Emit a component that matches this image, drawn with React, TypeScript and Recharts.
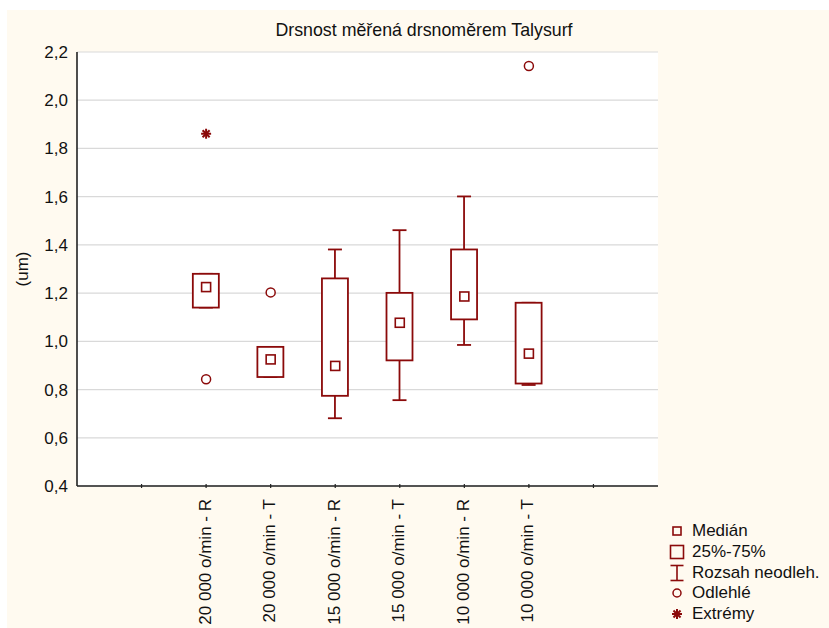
import {
  ComposedChart,
  Bar,
  Scatter,
  XAxis,
  YAxis,
  CartesianGrid,
} from "recharts";

const categories = [
  "20 000 o/min - R",
  "20 000 o/min - T",
  "15 000 o/min - R",
  "15 000 o/min - T",
  "10 000 o/min - R",
  "10 000 o/min - T",
];
const medians = [1.225, 0.925, 0.898, 1.077, 1.186, 0.949];
const q1 = [1.14, 0.852, 0.774, 0.921, 1.091, 0.825];
const q3 = [1.28, 0.977, 1.261, 1.201, 1.381, 1.16];
const whiskerMin = [1.14, 0.852, 0.681, 0.756, 0.985, 0.819];
const whiskerMax = [1.28, 0.977, 1.381, 1.461, 1.601, 1.16];
const outlierCats = [0, 1, 5];
const outlierValues = [0.843, 1.203, 2.142];
const extremeCats = [0];
const extremeValues = [1.861];

const xTicks = [0, 1, 2, 3, 4, 5, 6, 7, 8, 9];
const yTicks = [0.4, 0.6, 0.8, 1.0, 1.2, 1.4, 1.6, 1.8, 2.0, 2.2];
const legendLabels = ["Medián", "25%-75%", "Rozsah neodleh.", "Odlehlé", "Extrémy"];

// first box sits on the third tick of the axis (two empty slots on the left)
const SLOT = 2;
const RED = "#8b0a0a";
const AXIS = "#222";
const FONT = "'Liberation Sans', Arial, sans-serif";

const rows = categories.map((name, i) => ({
  x: i + SLOT,
  name,
  box: [q1[i], q3[i]],
  whisker: [whiskerMin[i], whiskerMax[i]],
}));
const medianPts = medians.map((v, i) => ({ x: i + SLOT, y: v }));
const outlierPts = outlierCats.map((c, i) => ({ x: c + SLOT, y: outlierValues[i] }));
const extremePts = extremeCats.map((c, i) => ({ x: c + SLOT, y: extremeValues[i] }));

const WhiskerShape = (props: any) => {
  const { x, y, width, height } = props;
  const top = Math.min(y, y + height);
  const bot = Math.max(y, y + height);
  const cx = x + width / 2;
  return (
    <g stroke={RED} strokeWidth={1.8}>
      <line x1={cx} x2={cx} y1={top} y2={bot} />
      <line x1={x} x2={x + width} y1={top} y2={top} />
      <line x1={x} x2={x + width} y1={bot} y2={bot} />
    </g>
  );
};

const BoxShape = (props: any) => {
  const { x, y, width, height } = props;
  return (
    <rect
      x={x}
      y={Math.min(y, y + height)}
      width={width}
      height={Math.abs(height)}
      fill="#fff"
      stroke={RED}
      strokeWidth={1.8}
    />
  );
};

const MedianShape = ({ cx, cy }: any) => (
  <rect x={cx - 4.5} y={cy - 4.5} width={9} height={9} fill="#fff" stroke={RED} strokeWidth={1.6} />
);

const OutlierShape = ({ cx, cy }: any) => (
  <circle cx={cx} cy={cy} r={4.5} fill="#fff" stroke={RED} strokeWidth={1.5} />
);

const Asterisk = ({ cx, cy, r = 5 }: any) => {
  const d = r * 0.707;
  return (
    <g stroke={RED} strokeWidth={2}>
      <line x1={cx} x2={cx} y1={cy - r} y2={cy + r} />
      <line x1={cx - r} x2={cx + r} y1={cy} y2={cy} />
      <line x1={cx - d} x2={cx + d} y1={cy - d} y2={cy + d} />
      <line x1={cx - d} x2={cx + d} y1={cy + d} y2={cy - d} />
    </g>
  );
};

const BottomTick = (props: any) => {
  const { x, y, payload } = props;
  const label = categories[payload.value - SLOT];
  return (
    <g>
      {payload.value > 0 && payload.value < 9 && (
        <line x1={x} x2={x} y1={y} y2={y - 4} stroke={AXIS} strokeWidth={1.2} />
      )}
      {label && (
        <text
          x={x - 1}
          y={y + 11}
          transform={`rotate(-90, ${x - 1}, ${y + 11})`}
          textAnchor="end"
          dominantBaseline="central"
          fontSize={17}
          fontFamily={FONT}
          fill="#111"
        >
          {label}
        </text>
      )}
    </g>
  );
};

const TopTick = (props: any) => {
  const { x, y, payload } = props;
  if (payload.value <= 0 || payload.value >= 9) return <g />;
  return <line x1={x} x2={x} y1={y} y2={y + 4} stroke={AXIS} strokeWidth={1.2} />;
};

const YTitle = ({ viewBox }: any) => {
  const cx = 22;
  const cy = viewBox.y + viewBox.height / 2;
  return (
    <text
      x={cx}
      y={cy}
      transform={`rotate(-90, ${cx}, ${cy})`}
      textAnchor="middle"
      dominantBaseline="central"
      fontSize={17}
      fontFamily={FONT}
      fill="#111"
    >
      (um)
    </text>
  );
};

const LegendIcon = ({ i }: { i: number }) => {
  const cx = 17;
  const cy = 10;
  if (i === 0) return <rect x={cx - 4} y={cy - 4} width={8} height={8} fill="none" stroke={RED} strokeWidth={1.6} />;
  if (i === 1) return <rect x={cx - 6.5} y={cy - 6.5} width={13} height={13} fill="none" stroke={RED} strokeWidth={1.6} />;
  if (i === 2)
    return (
      <g stroke={RED} strokeWidth={1.6}>
        <line x1={cx} x2={cx} y1={cy - 7.5} y2={cy + 7.5} />
        <line x1={cx - 6.5} x2={cx + 6.5} y1={cy - 7.5} y2={cy - 7.5} />
        <line x1={cx - 6.5} x2={cx + 6.5} y1={cy + 7.5} y2={cy + 7.5} />
      </g>
    );
  if (i === 3) return <circle cx={cx} cy={cy} r={4} fill="none" stroke={RED} strokeWidth={1.5} />;
  return <Asterisk cx={cx} cy={cy} r={5} />;
};

export default function App() {
  return (
    <div style={{ position: "absolute", left: 0, top: 0, width: 829, height: 628, background: "#fff" }}>
      <div style={{ position: "absolute", left: 7, top: 10, width: 822, height: 618, background: "#fffaf0" }} />
      <div
        style={{
          position: "absolute",
          left: 0,
          top: 20,
          width: 848,
          textAlign: "center",
          fontFamily: FONT,
          fontSize: 17.8,
          color: "#111",
        }}
      >
        Drsnost měřená drsnoměrem Talysurf
      </div>
      <div style={{ position: "absolute", left: 0, top: 0 }}>
        <ComposedChart
          width={829}
          height={628}
          data={rows}
          margin={{ top: 52, right: 171, left: 0, bottom: 0 }}
        >
          <CartesianGrid vertical={false} fill="#fff" stroke="#d9d9d9" strokeWidth={1.2} />
          <XAxis
            dataKey="x"
            type="number"
            domain={[0, 9]}
            ticks={xTicks}
            interval={0}
            allowDataOverflow
            height={142}
            tickSize={0}
            tickLine={false}
            axisLine={{ stroke: AXIS, strokeWidth: 1.6 }}
            tick={<BottomTick />}
          />
          <XAxis
            xAxisId="top"
            orientation="top"
            dataKey="x"
            type="number"
            domain={[0, 9]}
            ticks={xTicks}
            interval={0}
            allowDataOverflow
            height={0}
            tickSize={0}
            tickLine={false}
            axisLine={{ stroke: AXIS, strokeWidth: 1.6 }}
            tick={<TopTick />}
          />
          <XAxis xAxisId="wh" dataKey="x" type="number" domain={[0, 9]} allowDataOverflow hide />
          <XAxis xAxisId="bx" dataKey="x" type="number" domain={[0, 9]} allowDataOverflow hide />
          <YAxis
            type="number"
            domain={[0.4, 2.2]}
            ticks={yTicks}
            interval={0}
            allowDataOverflow
            width={77}
            tickLine={false}
            tickSize={0}
            tickMargin={9}
            axisLine={{ stroke: AXIS, strokeWidth: 1.6 }}
            tick={{ fontSize: 17, fontFamily: FONT, fill: "#111" }}
            tickFormatter={(v: number) => v.toFixed(1).replace(".", ",")}
            label={<YTitle />}
          />
          <YAxis
            yAxisId="right"
            orientation="right"
            type="number"
            domain={[0.4, 2.2]}
            width={0}
            tick={false}
            tickLine={false}
            axisLine={{ stroke: AXIS, strokeWidth: 1.6 }}
          />
          <Bar
            xAxisId="wh"
            dataKey="whisker"
            barSize={14}
            shape={<WhiskerShape />}
            isAnimationActive={false}
          />
          <Bar
            xAxisId="bx"
            dataKey="box"
            barSize={26}
            shape={<BoxShape />}
            isAnimationActive={false}
          />
          <Scatter data={medianPts} dataKey="y" shape={<MedianShape />} isAnimationActive={false} />
          <Scatter data={outlierPts} dataKey="y" shape={<OutlierShape />} isAnimationActive={false} />
          <Scatter data={extremePts} dataKey="y" shape={<Asterisk />} isAnimationActive={false} />
        </ComposedChart>
      </div>
      <div style={{ position: "absolute", left: 660, top: 521, fontFamily: FONT, fontSize: 17, color: "#111" }}>
        {legendLabels.map((t, i) => (
          <div key={t} style={{ display: "flex", alignItems: "center", height: 20.7 }}>
            <svg width={30} height={20} style={{ flex: "none", overflow: "visible" }}>
              <LegendIcon i={i} />
            </svg>
            <span style={{ marginLeft: 2, lineHeight: "20px", whiteSpace: "nowrap" }}>{t}</span>
          </div>
        ))}
      </div>
    </div>
  );
}
